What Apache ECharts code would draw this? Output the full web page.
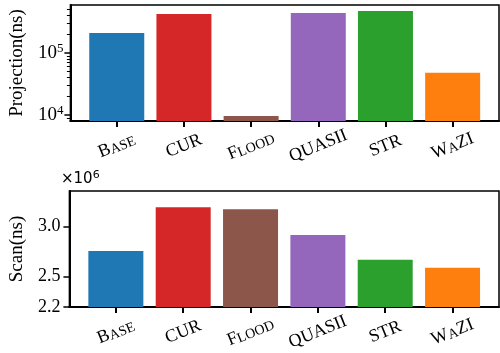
<!DOCTYPE html>
<html>
<head>
<meta charset="utf-8">
<script src="https://cdn.jsdelivr.net/npm/echarts@6/dist/echarts.min.js"></script>
<style>html,body{margin:0;padding:0;background:#fff}#c{width:500px;height:353px}</style>
</head>
<body>
<div id="c"></div>
<script>
const categories = ['BASE', 'CUR', 'FLOOD', 'QUASII', 'STR', 'WAZI'];
const categoryLabels = ['B{sc|ASE}', 'CUR', 'F{sc|LOOD}', 'QUASII', 'STR', 'W{sc|A}ZI'];
const barColors = ['#1f77b4', '#d62728', '#8c564b', '#9467bd', '#2ca02c', '#ff7f0e'];
const projectionNs = [210000, 425000, 9650, 441000, 475000, 48000];
const scanNs = [2756000, 3190000, 3170000, 2914000, 2668000, 2589000];
const projMajorTicks = [10000, 100000];
const projMinorTicks = [9000, 20000, 30000, 40000, 50000, 60000, 70000, 80000, 90000, 200000, 300000, 400000, 500000];
const scanTicks = [2200000, 2500000, 3000000];
const categoryPositions = [0, 1, 2, 3, 4, 5];

const serif = 'Liberation Serif';
const chart = echarts.init(document.getElementById('c'), null, {renderer: 'canvas'});

function xAxisCfg(gridIndex) {
  return {
    type: 'value', gridIndex: gridIndex, min: -0.69, max: 5.69,
    splitLine: {show: false},
    axisLine: {show: true, onZero: false, lineStyle: {color: '#000', width: 2}},
    axisTick: {show: true, customValues: categoryPositions, length: 6, lineStyle: {color: '#000', width: 2}},
    axisLabel: {
      customValues: categoryPositions,
      formatter: function (v) { return categoryLabels[Math.round(v)]; },
      rotate: 22, align: 'center', verticalAlign: 'middle', margin: 25,
      color: '#000', fontFamily: serif, fontSize: 18,
      rich: {sc: {fontFamily: serif, fontSize: 14, color: '#000', verticalAlign: 'bottom'}}
    }
  };
}

function barData(vals) {
  return vals.map(function (v, i) {
    return {value: [categoryPositions[i], v], itemStyle: {color: barColors[i]}};
  });
}

const option = {
  animation: false,
  grid: [
    {left: 62, right: 1, top: 5, height: 116, show: true, borderColor: '#000', borderWidth: 1.5, backgroundColor: 'transparent'},
    {left: 62, right: 1, top: 191, height: 116, show: true, borderColor: '#000', borderWidth: 1.5, backgroundColor: 'transparent'}
  ],
  xAxis: [xAxisCfg(0), xAxisCfg(1)],
  yAxis: [
    {
      type: 'log', gridIndex: 0, position: 'left', min: 8000, max: 594000,
      name: 'Projection(ns)', nameLocation: 'middle', nameGap: 37, nameRotate: 90,
      nameTextStyle: {color: '#000', fontFamily: serif, fontSize: 19},
      splitLine: {show: false},
      axisLine: {show: true, onZero: false, lineStyle: {color: '#000', width: 2}},
      axisTick: {show: true, customValues: projMajorTicks, length: 6, lineStyle: {color: '#000', width: 1.5}},
      axisLabel: {
        customValues: projMajorTicks, margin: 7,
        formatter: function (v) { return '10{sup|' + Math.round(Math.log10(v)) + '}'; },
        color: '#000', fontFamily: serif, fontSize: 19,
        rich: {sup: {fontFamily: serif, fontSize: 13, verticalAlign: 'top', padding: [0, 0, 9, 0], color: '#000'}}
      }
    },
    {
      type: 'log', gridIndex: 0, position: 'left', min: 8000, max: 594000,
      splitLine: {show: false},
      axisLine: {show: false, onZero: false},
      axisTick: {show: true, customValues: projMinorTicks, length: 3.5, lineStyle: {color: '#000', width: 1}},
      axisLabel: {show: false}
    },
    {
      type: 'value', gridIndex: 1, position: 'left', min: 2200000, max: 3350000,
      name: 'Scan(ns)', nameLocation: 'middle', nameGap: 36, nameRotate: 90,
      nameTextStyle: {color: '#000', fontFamily: serif, fontSize: 19},
      splitLine: {show: false},
      axisLine: {show: true, onZero: false, lineStyle: {color: '#000', width: 2}},
      axisTick: {show: true, customValues: scanTicks, length: 6, lineStyle: {color: '#000', width: 1.5}},
      axisLabel: {
        customValues: scanTicks, margin: 9,
        formatter: function (v) { return (v / 1e6).toFixed(1); },
        color: '#000', fontFamily: serif, fontSize: 18
      }
    }
  ],
  graphic: [{
    type: 'text', left: 61, top: 170,
    style: {
      text: '×10{sup|6}', fill: '#000', font: '15px "DejaVu Sans"',
      rich: {sup: {fontFamily: 'DejaVu Sans', fontSize: 11, verticalAlign: 'top', padding: [0, 0, 8, 0]}}
    }
  }],
  series: [
    {type: 'bar', xAxisIndex: 0, yAxisIndex: 0, barWidth: 55, clip: true, data: barData(projectionNs)},
    {type: 'bar', xAxisIndex: 1, yAxisIndex: 2, barWidth: 55, clip: true, data: barData(scanNs)}
  ]
};
chart.setOption(option);
</script>
</body>
</html>
